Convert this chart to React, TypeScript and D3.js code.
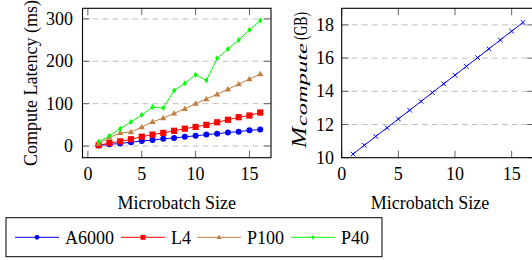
import * as d3 from "d3";

const sizes = [1, 2, 3, 4, 5, 6, 7, 8, 9, 10, 11, 12, 13, 14, 15, 16];
const a6000 = [1, 4, 6, 9, 12, 14, 17, 19, 22, 24, 27, 29, 32, 34, 37, 39];
const l4 = [2, 7, 11, 16, 22, 27, 31, 36, 41, 45, 50, 56, 62, 68, 72, 79];
const p100 = [6, 20, 31, 33, 45, 57, 66, 77, 88, 100, 111, 122, 134, 146, 158, 170];
const p40 = [10, 24, 41, 57, 73, 92, 90, 131, 148, 168, 155, 207, 229, 250, 274, 296];
const memory = [
  10.22, 10.75, 11.28, 11.8, 12.33, 12.86, 13.39, 13.92, 14.45, 14.97, 15.5,
  16.03, 16.56, 17.09, 17.62, 18.15,
];

const xTicks = [0, 5, 10, 15];
const latencyTicks = [0, 100, 200, 300];
const memoryTicks = [10, 12, 14, 16, 18];

const seriesNames = ["A6000", "L4", "P100", "P40"];
const seriesColors = ["#0000ff", "#ff0000", "#bf8040", "#00ff00"];
const seriesMarks = ["circle", "square", "triangle", "diamond"];
const seriesData = [a6000, l4, p100, p40];

const FONT = '"Liberation Serif", "DejaVu Serif", serif';

function Mark({ kind, x, y, color, s = 1 }: { kind: string; x: number; y: number; color: string; s?: number }) {
  if (kind === "circle") return <circle cx={x} cy={y} r={3 * s} fill={color} />;
  if (kind === "square") {
    const h = 3.1 * s;
    return <rect x={x - h} y={y - h} width={2 * h} height={2 * h} fill={color} />;
  }
  if (kind === "triangle") {
    const w = 3.1 * s;
    return <path d={`M${x},${y - 3.3 * s}L${x + w},${y + 2.2 * s}L${x - w},${y + 2.2 * s}Z`} fill={color} />;
  }
  // thin diamond
  return (
    <path
      d={`M${x},${y - 3 * s}L${x + 2 * s},${y}L${x},${y + 3 * s}L${x - 2 * s},${y}Z`}
      fill={color}
    />
  );
}

function Frame({ x0, x1, y0, y1, xs, ys, xt, yt }: any) {
  const tl = 7;
  return (
    <g>
      {yt.map((t: number) => {
        const y = ys(t);
        if (Math.abs(y - y1) < 1) return null;
        return (
          <line key={"g" + t} x1={x0} x2={x1} y1={y} y2={y} stroke="#bfbfbf" strokeWidth={1} strokeDasharray="6 4" />
        );
      })}
      {xt.map((t: number) => {
        const x = xs(t);
        return (
          <g key={"xt" + t}>
            <line x1={x} x2={x} y1={y1} y2={y1 - tl} stroke="#666" strokeWidth={1} />
            <line x1={x} x2={x} y1={y0} y2={y0 + tl} stroke="#666" strokeWidth={1} />
          </g>
        );
      })}
      {yt.map((t: number) => {
        const y = ys(t);
        return (
          <g key={"yt" + t}>
            <line x1={x0} x2={x0 + tl} y1={y} y2={y} stroke="#666" strokeWidth={1} />
            <line x1={x1} x2={x1 - tl} y1={y} y2={y} stroke="#666" strokeWidth={1} />
          </g>
        );
      })}
    </g>
  );
}

export default function App() {
  const xL = d3.scaleLinear().domain([-0.5, 17]).range([82.5, 271]);
  const yL = d3.scaleLinear().domain([-27.5, 325]).range([157.7, 8.3]);
  const xR = d3.scaleLinear().domain([0, 17]).range([341.7, 534.3]);
  const yR = d3.scaleLinear().domain([10, 19]).range([157.7, 8.3]);

  const lineL = (vals: number[]) =>
    d3
      .line<number>()
      .x((_, i) => xL(sizes[i]))
      .y((d) => yL(d))(vals) as string;
  const lineR = d3
    .line<number>()
    .x((_, i) => xR(sizes[i]))
    .y((d) => yR(d))(memory) as string;

  const legendX = [15, 121, 197, 291];
  const legendY = 237.3;

  return (
    <svg
      width={532}
      height={260}
      style={{ position: "absolute", left: 0, top: 0, background: "#fff", fontFamily: FONT }}
    >
      {/* left plot */}
      <Frame x0={82.5} x1={271} y0={8.3} y1={157.7} xs={xL} ys={yL} xt={xTicks} yt={latencyTicks} />
      {seriesData.map((vals, k) => (
        <g key={seriesNames[k]}>
          <path d={lineL(vals)} fill="none" stroke={seriesColors[k]} strokeWidth={1} />
          {vals.map((v, i) => (
            <Mark key={i} kind={seriesMarks[k]} x={xL(sizes[i])} y={yL(v)} color={seriesColors[k]} />
          ))}
        </g>
      ))}
      <rect x={82.5} y={8.3} width={271 - 82.5} height={157.7 - 8.3} fill="none" stroke="#000" strokeWidth={1.1} />
      {xTicks.map((t) => (
        <text key={t} x={xL(t)} y={180} textAnchor="middle" fontSize={18}>
          {t}
        </text>
      ))}
      {latencyTicks.map((t) => (
        <text key={t} x={73} y={yL(t) + 6} textAnchor="end" fontSize={18}>
          {t}
        </text>
      ))}
      <text x={176.7} y={209} textAnchor="middle" fontSize={18}>
        Microbatch Size
      </text>
      <text transform="translate(37,83) rotate(-90)" textAnchor="middle" fontSize={18}>
        Compute Latency (ms)
      </text>

      {/* right plot */}
      <Frame x0={341.7} x1={534.3} y0={8.3} y1={157.7} xs={xR} ys={yR} xt={xTicks} yt={memoryTicks} />
      <path d={lineR} fill="none" stroke="#0000ff" strokeWidth={1} />
      {memory.map((v, i) => {
        const x = xR(sizes[i]);
        const y = yR(v);
        const h = 2.3;
        return (
          <path
            key={i}
            d={`M${x - h},${y - h}L${x + h},${y + h}M${x - h},${y + h}L${x + h},${y - h}`}
            stroke="#0000ff"
            strokeWidth={1}
          />
        );
      })}
      <rect x={341.7} y={8.3} width={534.3 - 341.7} height={157.7 - 8.3} fill="none" stroke="#000" strokeWidth={1.1} />
      {xTicks.map((t) => (
        <text key={t} x={xR(t)} y={180} textAnchor="middle" fontSize={18}>
          {t}
        </text>
      ))}
      {memoryTicks.map((t) => (
        <text key={t} x={334} y={yR(t) + 6} textAnchor="end" fontSize={18}>
          {t}
        </text>
      ))}
      <text x={430} y={209} textAnchor="middle" fontSize={18}>
        Microbatch Size
      </text>
      <text
        transform="translate(306,148) rotate(-90)"
        fontSize={20}
        fontStyle="italic"
        textLength={21}
        lengthAdjust="spacingAndGlyphs"
      >
        M
      </text>
      <text
        transform="translate(307,126) rotate(-90)"
        fontSize={15}
        fontStyle="italic"
        textLength={83}
        lengthAdjust="spacingAndGlyphs"
      >
        compute
      </text>
      <text transform="translate(306.5,40) rotate(-90)" fontSize={18} textLength={28} lengthAdjust="spacingAndGlyphs">
        (GB)
      </text>

      {/* legend */}
      <rect x={6} y={217.7} width={376} height={39} fill="#fff" stroke="#000" strokeWidth={1} />
      {seriesNames.map((name, k) => {
        const x = legendX[k];
        return (
          <g key={name}>
            <line x1={x} x2={x + 44} y1={legendY} y2={legendY} stroke={seriesColors[k]} strokeWidth={1} />
            <Mark kind={seriesMarks[k]} x={x + 22} y={legendY} color={seriesColors[k]} s={0.8} />
            <text x={x + 50} y={243.5} fontSize={18}>
              {name}
            </text>
          </g>
        );
      })}
    </svg>
  );
}
